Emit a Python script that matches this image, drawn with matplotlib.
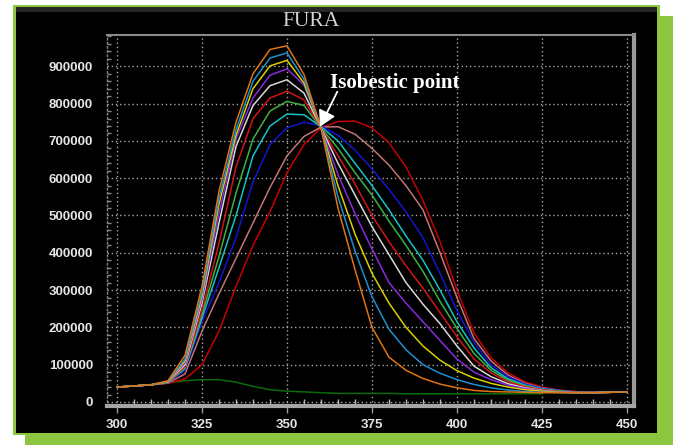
import matplotlib
matplotlib.use("Agg")
import matplotlib.pyplot as plt
from matplotlib import patches
from matplotlib.ticker import MultipleLocator

# wavelength grid (nm) shared by all spectra
wavelengths = list(range(300, 455, 5))

# emission spectra (top peak -> lowest peak)
orange = [40000, 43000, 46000, 57000, 125000, 310000, 565000, 750000, 880000, 945000, 955000,
          878000, 735000, 520000, 355000, 200000, 120000, 85000, 63000, 48000, 38000, 31000,
          28000, 27000, 26000, 25000, 25000, 25000, 25000, 26000, 27000]
skyblue = [40000, 43000, 46000, 56000, 115000, 295000, 545000, 730000, 860000, 922000, 936000,
           865000, 735000, 550000, 405000, 282000, 195000, 140000, 100000, 77000, 60000, 47000,
           38000, 32000, 28000, 26000, 25000, 25000, 25000, 26000, 27000]
yellow = [40000, 43000, 46000, 55000, 110000, 285000, 530000, 715000, 840000, 901000, 916000,
          855000, 735000, 580000, 450000, 345000, 265000, 200000, 150000, 112000, 84000, 64000,
          50000, 40000, 33000, 29000, 26000, 25000, 25000, 26000, 27000]
purple = [40000, 43000, 46000, 55000, 105000, 275000, 505000, 705000, 815000, 876000, 893000,
          850000, 735000, 610000, 505000, 410000, 320000, 265000, 215000, 165000, 115000, 80000,
          60000, 45000, 36000, 30000, 27000, 25000, 25000, 26000, 27000]
white = [40000, 43000, 46000, 54000, 100000, 265000, 480000, 685000, 795000, 848000, 864000,
         828000, 735000, 640000, 555000, 470000, 395000, 320000, 262000, 210000, 150000, 96000,
         68000, 49000, 38000, 31000, 27000, 25000, 25000, 26000, 27000]
red = [40000, 43000, 46000, 53000, 95000, 245000, 425000, 630000, 760000, 815000, 833000,
       810000, 735000, 660000, 585000, 500000, 430000, 365000, 305000, 240000, 175000, 115000,
       78000, 54000, 41000, 33000, 28000, 26000, 25000, 26000, 27000]
green = [40000, 43000, 46000, 53000, 92000, 235000, 390000, 560000, 705000, 780000, 806000,
         795000, 735000, 680000, 615000, 555000, 485000, 420000, 350000, 270000, 197000, 130000,
         85000, 58000, 43000, 34000, 29000, 26000, 25000, 26000, 27000]
teal = [40000, 43000, 46000, 52000, 90000, 225000, 360000, 500000, 660000, 740000, 772000,
        770000, 738000, 700000, 640000, 580000, 515000, 445000, 380000, 300000, 215000, 145000,
        92000, 62000, 45000, 35000, 30000, 26000, 25000, 26000, 27000]
blue = [40000, 43000, 46000, 52000, 85000, 215000, 320000, 440000, 590000, 690000, 735000,
        750000, 740000, 715000, 675000, 625000, 570000, 510000, 440000, 345000, 245000, 160000,
        100000, 68000, 48000, 37000, 31000, 27000, 26000, 26000, 27000]
rosy = [40000, 43000, 46000, 51000, 75000, 190000, 290000, 385000, 480000, 575000, 660000,
        712000, 737000, 738000, 718000, 680000, 635000, 580000, 515000, 400000, 280000, 170000,
        110000, 72000, 50000, 38000, 31000, 27000, 26000, 26000, 27000]
darkred = [40000, 43000, 46000, 50000, 62000, 100000, 190000, 310000, 420000, 510000, 615000,
           690000, 735000, 752000, 753000, 735000, 695000, 630000, 540000, 430000, 300000, 185000,
           118000, 78000, 54000, 40000, 32000, 28000, 26000, 26000, 27000]

# low dark green trace, stops where it disappears under the others
baseline_wl = list(range(300, 430, 5))
baseline = [40000, 43000, 47000, 52000, 57000, 60000, 60000, 53000, 42000, 33000, 29000, 27000,
            25000, 23000, 23000, 23000, 23000, 22000, 22000, 22000, 22000, 22000, 22000, 22000,
            22000, 22000]

spectra = [
    (darkred, '#c80000'),
    (rosy, '#c47474'),
    (blue, '#1414d2'),
    (teal, '#12c4c4'),
    (green, '#40b040'),
    (red, '#d41414'),
    (white, '#d8d8d8'),
    (purple, '#8a28e0'),
    (yellow, '#d8d000'),
    (skyblue, '#1c90d0'),
    (orange, '#e07410'),
]

y_ticks = [0, 100000, 200000, 300000, 400000, 500000, 600000, 700000, 800000, 900000]
x_ticks = [300, 325, 350, 375, 400, 425, 450]

W, H = 675, 445
GREEN = '#8cc63f'


def px_rect(x0, y0, x1, y1, **kw):
    """rectangle given in image pixels (y from top) -> figure coords"""
    return patches.Rectangle((x0 / W, 1 - y1 / H), (x1 - x0) / W, (y1 - y0) / H,
                             transform=fig.transFigure, **kw)


fig = plt.figure(figsize=(W / 100, H / 100), dpi=100, facecolor='white')

# green drop shadow + framed black panel
fig.add_artist(px_rect(25, 16, 673, 445, facecolor=GREEN, edgecolor='none', zorder=-5))
fig.add_artist(px_rect(13, 5, 660, 435, facecolor=GREEN, edgecolor='none', zorder=-4))
fig.add_artist(px_rect(16, 7, 657, 433, facecolor='black', edgecolor='none', zorder=-3))
fig.add_artist(px_rect(16, 7, 657, 12, facecolor='#262626', edgecolor='none', zorder=-2))

fig.text(311 / W, 1 - 21 / H, 'FURA', family='Liberation Serif', fontsize=15.5,
         color='#d4d4d4', ha='center', va='center')

ax = fig.add_axes([107 / W, 1 - 405.5 / H, (634 - 107) / W, (405.5 - 35) / H])
ax.set_facecolor('black')

ax.plot(baseline_wl, baseline, color='#0b6a0b', lw=1.1)
for values, color in spectra:
    ax.plot(wavelengths, values, color=color, lw=1.1)

ax.set_xlim(297.06, 452.06)
ax.set_ylim(-9400, 983900)
ax.set_xticks(x_ticks)
ax.set_yticks(y_ticks)
ax.set_yticklabels([str(v) for v in y_ticks])
ax.xaxis.set_minor_locator(MultipleLocator(5))
ax.yaxis.set_minor_locator(MultipleLocator(20000))

ax.grid(True, which='major', color='#a8a8a8', linestyle=(0, (1, 2)), lw=1)

for lbl in ax.get_xticklabels() + ax.get_yticklabels():
    lbl.set_family('Liberation Sans')
    lbl.set_fontweight('bold')
    lbl.set_fontsize(9.5)
    lbl.set_color('#e6e6e6')

ax.tick_params(axis='x', which='major', length=5, width=1, color='#9a9a9a', pad=5)
ax.tick_params(axis='y', which='major', length=0, pad=10)
ax.tick_params(axis='x', which='minor', direction='in', length=5, width=1, color='#bbbbbb')
ax.tick_params(axis='y', which='minor', direction='in', length=3, width=1, color='#888888')

# 3d-ish grey frame of the instrument plot
ax.spines['bottom'].set_color('#a6a6a6')
ax.spines['bottom'].set_linewidth(3)
ax.spines['right'].set_color('#9a9a9a')
ax.spines['right'].set_linewidth(3)
ax.spines['top'].set_color('#8a8a8a')
ax.spines['top'].set_linewidth(1.5)
ax.spines['left'].set_color('#8a8a8a')
ax.spines['left'].set_linestyle((0, (1, 2)))
ax.spines['left'].set_linewidth(1)

# isobestic point label and arrow
ax.annotate('', xy=(359.7, 738000), xytext=(364.8, 832000),
            arrowprops=dict(arrowstyle='-|>,head_length=0.8,head_width=0.45',
                            color='white', lw=1.3, mutation_scale=12,
                            shrinkA=0, shrinkB=0))
ax.text(362.6, 842000, 'Isobestic point', family='Liberation Serif', fontweight='bold',
        fontsize=15, color='white', ha='left', va='baseline')

fig.savefig('out.png', dpi=100, facecolor='white')
